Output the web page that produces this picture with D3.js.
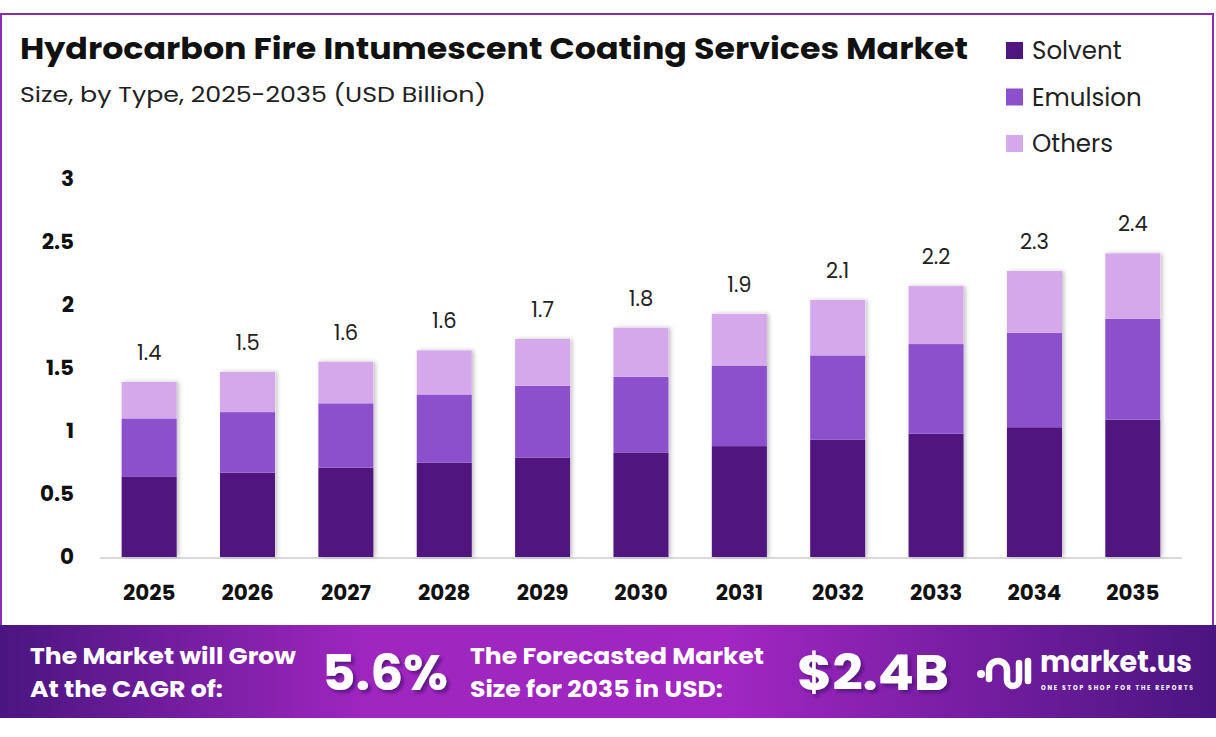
<!DOCTYPE html>
<html>
<head>
<meta charset="utf-8">
<script src="https://cdn.jsdelivr.net/npm/d3@7"></script>
<style>
  body { margin: 0; background: #fff; }
  svg { display: block; font-family: "Poppins", "Open Sans", sans-serif; }
</style>
</head>
<body>
<svg id="chart" width="1216" height="737"></svg>
<script>
// data
var years = ["2025","2026","2027","2028","2029","2030","2031","2032","2033","2034","2035"];
var solvent  = [0.64, 0.67, 0.71, 0.75, 0.79, 0.83, 0.88, 0.93, 0.98, 1.03, 1.09];
var emulsion = [0.46, 0.48, 0.51, 0.54, 0.57, 0.60, 0.64, 0.67, 0.71, 0.75, 0.80];
var others   = [0.29, 0.32, 0.33, 0.35, 0.37, 0.39, 0.41, 0.44, 0.46, 0.49, 0.52];
var totalLabels = ["1.4","1.5","1.6","1.6","1.7","1.8","1.9","2.1","2.2","2.3","2.4"];
var yTicks = [0, 0.5, 1, 1.5, 2, 2.5, 3];
var seriesNames = ["Solvent", "Emulsion", "Others"];
var seriesColors = ["#50157f", "#8c50cc", "#d4a8ea"];

var svg = d3.select("#chart");

// drop shadow for the bars
var defs = svg.append("defs");
var f = defs.append("filter").attr("id", "shadow").attr("x", "-20%").attr("y", "-10%").attr("width", "140%").attr("height", "120%");
f.append("feDropShadow").attr("dx", 2).attr("dy", 0).attr("stdDeviation", 2).attr("flood-color", "#000").attr("flood-opacity", 0.25);
// shadow for the big banner numbers
var f2 = defs.append("filter").attr("id", "numShadow").attr("x", "-10%").attr("y", "-20%").attr("width", "130%").attr("height", "150%");
f2.append("feDropShadow").attr("dx", 3).attr("dy", 3).attr("stdDeviation", 1.5).attr("flood-color", "#4a1070").attr("flood-opacity", 0.7);

var grad = defs.append("linearGradient").attr("id", "banner").attr("x1", "0").attr("x2", "1");
grad.append("stop").attr("offset", "0").attr("stop-color", "#4a1580");
grad.append("stop").attr("offset", "0.3").attr("stop-color", "#9f26bf");
grad.append("stop").attr("offset", "0.6").attr("stop-color", "#a126c2");
grad.append("stop").attr("offset", "1").attr("stop-color", "#4a1580");

// frame
svg.append("rect").attr("x", 1).attr("y", 14).attr("width", 1212).attr("height", 640)
  .attr("fill", "none").attr("stroke", "#8a2eb0").attr("stroke-width", 2);

// title
svg.append("text").attr("x", 20).attr("y", 59).attr("font-size", 29).attr("font-weight", 700)
  .attr("fill", "#111").attr("textLength", 948).attr("lengthAdjust", "spacingAndGlyphs")
  .text("Hydrocarbon Fire Intumescent Coating Services Market");
svg.append("text").attr("x", 20).attr("y", 102).attr("font-size", 22).attr("fill", "#222")
  .attr("textLength", 466).attr("lengthAdjust", "spacingAndGlyphs")
  .text("Size, by Type, 2025-2035 (USD Billion)");

// scales
var x = d3.scaleBand().domain(years).range([100, 1182]).paddingInner(0.44).paddingOuter(0.22);
var y = d3.scaleLinear().domain([0, 3]).range([557, 179]);

// y axis labels
var yAxis = svg.append("g").attr("transform", "translate(74,0)")
  .call(d3.axisLeft(y).tickValues(yTicks).tickSize(0).tickPadding(0).tickFormat(d3.format("")));
yAxis.select(".domain").remove();
yAxis.selectAll("text").attr("font-size", 21.5).attr("font-weight", 700).attr("fill", "#111")
  .attr("font-family", "Poppins, 'Open Sans', sans-serif");

// baseline
svg.append("line").attr("x1", 100).attr("x2", 1182).attr("y1", y(0) + 1).attr("y2", y(0) + 1)
  .attr("stroke", "#d9d9d9").attr("stroke-width", 2);

// x axis labels
var xAxis = svg.append("g").attr("transform", "translate(0," + 585 + ")")
  .call(d3.axisBottom(x).tickSize(0).tickPadding(0));
xAxis.select(".domain").remove();
xAxis.selectAll("text").attr("font-size", 21.5).attr("font-weight", 700).attr("fill", "#111")
  .attr("font-family", "Poppins, 'Open Sans', sans-serif");

// stacked bars
var rows = years.map(function(yr, i) {
  return { year: yr, Solvent: solvent[i], Emulsion: emulsion[i], Others: others[i] };
});
var stacked = d3.stack().keys(seriesNames)(rows);

var barsG = svg.append("g");
// shadow layer behind whole bars
barsG.selectAll("rect.shadow").data(rows).join("rect").attr("class", "shadow")
  .attr("x", function(d) { return x(d.year); })
  .attr("width", x.bandwidth())
  .attr("y", function(d) { return y(d.Solvent + d.Emulsion + d.Others); })
  .attr("height", function(d) { return y(0) - y(d.Solvent + d.Emulsion + d.Others); })
  .attr("fill", "#fff").attr("filter", "url(#shadow)");

stacked.forEach(function(layer, k) {
  barsG.selectAll("rect.s" + k).data(layer).join("rect").attr("class", "s" + k)
    .attr("x", function(d) { return x(d.data.year); })
    .attr("width", x.bandwidth())
    .attr("y", function(d) { return y(d[1]); })
    .attr("height", function(d) { return y(d[0]) - y(d[1]); })
    .attr("fill", seriesColors[k]);
});

// total labels
svg.append("g").selectAll("text").data(rows).join("text")
  .attr("x", function(d) { return x(d.year) + x.bandwidth() / 2; })
  .attr("y", function(d) { return y(d.Solvent + d.Emulsion + d.Others) - 22; })
  .attr("text-anchor", "middle").attr("font-size", 21).attr("fill", "#222")
  .text(function(d, i) { return totalLabels[i]; });

// legend
var legend = svg.append("g");
seriesNames.forEach(function(name, i) {
  var ly = 50 + i * 46.5;
  legend.append("rect").attr("x", 1006).attr("y", ly - 8).attr("width", 17).attr("height", 17)
    .attr("fill", seriesColors[i]);
  legend.append("text").attr("x", 1032).attr("y", ly + 9).attr("font-size", 24.5).attr("fill", "#222").text(name);
});

// bottom banner
svg.append("rect").attr("x", 0).attr("y", 625).attr("width", 1216).attr("height", 93).attr("fill", "url(#banner)");
svg.append("rect").attr("x", 0).attr("y", 718).attr("width", 1216).attr("height", 19).attr("fill", "#fff");

var bt = svg.append("g").attr("fill", "#fff").attr("font-weight", 700);
bt.append("text").attr("x", 30).attr("y", 664).attr("font-size", 23).attr("textLength", 266).attr("lengthAdjust", "spacingAndGlyphs").text("The Market will Grow");
bt.append("text").attr("x", 30).attr("y", 697).attr("font-size", 23).attr("textLength", 193).attr("lengthAdjust", "spacingAndGlyphs").text("At the CAGR of:");
bt.append("text").attr("x", 470).attr("y", 664).attr("font-size", 23).attr("textLength", 294).attr("lengthAdjust", "spacingAndGlyphs").text("The Forecasted Market");
bt.append("text").attr("x", 470).attr("y", 697).attr("font-size", 23).attr("textLength", 253).attr("lengthAdjust", "spacingAndGlyphs").text("Size for 2035 in USD:");

// big numbers with soft shadow
[["5.6%", 322, 126], ["$2.4B", 797, 152]].forEach(function(b) {
  svg.append("text").attr("x", b[1]).attr("y", 690).attr("font-size", 50).attr("font-weight", 700)
    .attr("fill", "#fff").attr("filter", "url(#numShadow)")
    .attr("textLength", b[2]).attr("lengthAdjust", "spacingAndGlyphs").text(b[0]);
});

// market.us logo
var logo = svg.append("g");
logo.append("circle").attr("cx", 981).attr("cy", 674).attr("r", 4).attr("fill", "#fff");
logo.append("path").attr("d", "M989,679 v-9 a9,9 0 0 1 18,0 v10 a6,6 0 0 0 12,0 v-17")
  .attr("fill", "none").attr("stroke", "#fff").attr("stroke-width", 6.5).attr("stroke-linecap", "round");
logo.append("line").attr("x1", 1028).attr("x2", 1028).attr("y1", 661).attr("y2", 681)
  .attr("stroke", "#fff").attr("stroke-width", 6.5).attr("stroke-linecap", "round");
logo.append("text").attr("x", 1040).attr("y", 672).attr("font-size", 29).attr("font-weight", 700)
  .attr("fill", "#fff").attr("textLength", 152).attr("lengthAdjust", "spacingAndGlyphs").text("market.us");
logo.append("text").attr("x", 1041).attr("y", 690).attr("font-size", 6).attr("font-weight", 700)
  .attr("fill", "#fff").attr("textLength", 152).attr("lengthAdjust", "spacing").text("ONE STOP SHOP FOR THE REPORTS");
</script>
</body>
</html>
